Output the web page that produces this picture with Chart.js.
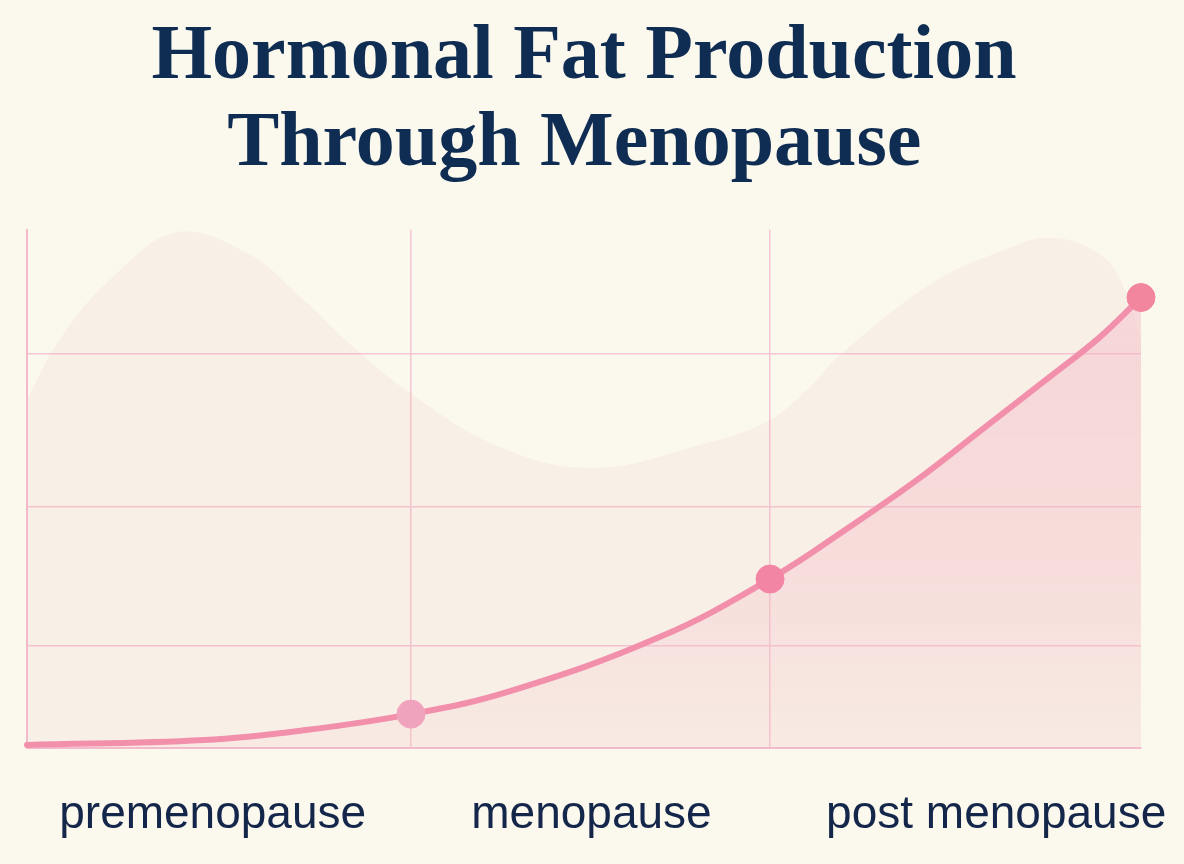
<!DOCTYPE html>
<html>
<head>
<meta charset="utf-8">
<script src="https://cdn.jsdelivr.net/npm/chart.js@4.4.1/dist/chart.umd.min.js"></script>
<style>
  html, body { margin: 0; padding: 0; background: #fbf8ee; }
  #wrap { width: 1184px; height: 864px; }
</style>
</head>
<body>
<div id="wrap"><canvas id="fatChart"></canvas></div>
<script>
// curve (x: 0 = start of premenopause, 3 = end of post menopause)
const stageX = [0, 0.477, 0.751, 1.034, 1.301, 1.705, 2.001, 2.216, 2.397, 2.575, 2.755, 2.89, 3];
const fatLevel = [0.6, 1.6, 3.6, 6.8, 11.4, 22.3, 33.9, 44.4, 53.8, 64.1, 74.5, 82.5, 90.4];
// markers only on the stage boundaries
const markerIdx = [3, 6, 12];
const markerColors = ['#f0a3bd', '#f284a4', '#f3869f'];

// soft background wave
const waveX = [0, 0.089, 0.224, 0.41, 0.6, 0.735, 0.87, 1.03, 1.274, 1.524, 1.812, 1.993, 2.109, 2.19, 2.44, 2.62, 2.755, 2.89, 2.957, 3];
const waveY = [69.9, 82, 94, 103.6, 99, 90.6, 81, 71.3, 60.4, 56.2, 60.8, 65.5, 72.5, 78.9, 93.4, 99.6, 102.4, 99, 92, 82];

// x tick labels and where they sit, plus grid positions
const stageLabels = ['premenopause', 'menopause', 'post menopause'];
const labelX = [0.5, 1.52, 2.61];
const gridX = [1.034, 2.001];
const gridY = [0, 20.5, 48.4, 79.1];

const titleLines = ['Hormonal Fat Production', 'Through Menopause\u00a0'];

const curve = stageX.map((x, i) => ({ x: x, y: fatLevel[i] }));
const wave = waveX.map((x, i) => ({ x: x, y: waveY[i] }));
const radii = stageX.map((x, i) => markerIdx.includes(i) ? 14 : 0);
const ptColors = stageX.map((x, i) => {
    const k = markerIdx.indexOf(i);
    return k >= 0 ? markerColors[k] : '#f290ac';
});

const xTicks = [...labelX, ...gridX].sort((a, b) => a - b);

const ctx = document.getElementById('fatChart').getContext('2d');
new Chart(ctx, {
    type: 'line',
    data: {
        datasets: [
            {
                data: curve,
                order: 1,
                borderColor: '#f290ac',
                borderWidth: 6,
                borderCapStyle: 'round',
                tension: 0.4,
                pointRadius: radii,
                pointHoverRadius: radii,
                pointBackgroundColor: ptColors,
                pointBorderColor: ptColors,
                pointBorderWidth: 1,
                clip: false,
                fill: 'origin',
                backgroundColor: (c) => {
                    const area = c.chart.chartArea;
                    if (!area) return 'rgba(243,180,195,0.25)';
                    const g = c.chart.ctx.createLinearGradient(0, area.top + 60, 0, area.bottom);
                    g.addColorStop(0, 'rgba(242,172,190,0.38)');
                    g.addColorStop(0.6, 'rgba(242,178,192,0.3)');
                    g.addColorStop(1, 'rgba(243,195,200,0.12)');
                    return g;
                }
            },
            {
                data: wave,
                order: 2,
                borderWidth: 0,
                borderColor: 'rgba(0,0,0,0)',
                pointRadius: 0,
                tension: 0.4,
                clip: false,
                fill: 'origin',
                backgroundColor: 'rgba(238,192,190,0.16)'
            }
        ]
    },
    options: {
        responsive: true,
        maintainAspectRatio: false,
        animation: false,
        events: [],
        layout: { padding: { left: 27, right: 43, bottom: 0, top: 0 } },
        plugins: {
            legend: { display: false },
            tooltip: { enabled: false },
            title: {
                display: true,
                text: titleLines,
                color: '#0f2d52',
                font: { family: '"Liberation Serif", serif', size: 78, weight: 'bold', lineHeight: 1.12 },
                padding: { top: 14, bottom: 41 }
            }
        },
        scales: {
            x: {
                type: 'linear',
                min: 0,
                max: 3,
                afterBuildTicks: (axis) => { axis.ticks = xTicks.map(v => ({ value: v })); },
                afterFit: (axis) => {
                    axis.height = 116;
                    axis.paddingLeft = 0;
                    axis.paddingRight = 0;
                },
                grid: {
                    drawTicks: false,
                    lineWidth: 1.5,
                    color: (c) => gridX.includes(c.tick && c.tick.value) ? '#f6c4d2' : 'rgba(0,0,0,0)'
                },
                border: { color: '#f4b9cb', width: 2 },
                ticks: {
                    autoSkip: false,
                    maxRotation: 0,
                    padding: 40,
                    color: '#14274a',
                    font: { family: '"Liberation Sans", sans-serif', size: 46 },
                    callback: (v) => {
                        const i = labelX.indexOf(v);
                        return i >= 0 ? stageLabels[i] : '';
                    }
                }
            },
            y: {
                min: 0,
                max: 104,
                afterBuildTicks: (axis) => { axis.ticks = gridY.map(v => ({ value: v })); },
                grid: { drawTicks: false, lineWidth: 1.5, color: '#f6c4d2' },
                border: { color: '#f4b9cb', width: 2 },
                ticks: { display: false }
            }
        }
    }
});
</script>
</body>
</html>
